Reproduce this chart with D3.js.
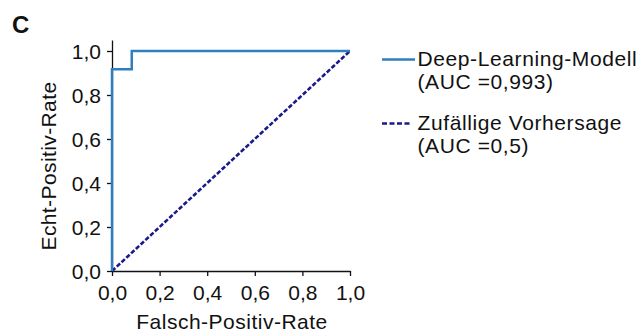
<!DOCTYPE html>
<html>
<head>
<meta charset="utf-8">
<script src="https://cdn.jsdelivr.net/npm/d3@7"></script>
<style>
  body { margin: 0; background: #fff; }
  svg { font-family: "Liberation Sans", Arial, Helvetica, sans-serif; }
</style>
</head>
<body>
<div id="chartContainer"></div>
<script>
// ROC curve of the model (step points)
var fpr = [0, 0, 0.083, 0.083, 1];
var tpr = [0, 0.917, 0.917, 1, 1];
// chance line
var randomFpr = [0, 1];
var randomTpr = [0, 1];

var xTicks = [0, 0.2, 0.4, 0.6, 0.8, 1.0];
var yTicks = [0, 0.2, 0.4, 0.6, 0.8, 1.0];

var legendNames = ["Deep-Learning-Modell", "Zufällige Vorhersage"];
var legendAuc = ["(AUC =0,993)", "(AUC =0,5)"];

function init() {
    var w = 639;
    var h = 333;
    var blue = "#2e7fbf";
    var navy = "#1a1a8c";

    var de = d3.formatLocale({decimal: ",", thousands: ".", grouping: [3], currency: ["", " €"]});
    var fmt = de.format(".1f");

    var svg = d3.select("#chartContainer")
        .append("svg")
        .attr("width", w)
        .attr("height", h);

    var x = d3.scaleLinear().domain([0, 1]).range([112, 350]);
    // axis line runs a bit above 1,0
    var y = d3.scaleLinear().domain([0, 1.05]).range([271, 40]);

    var xAxis = svg.append("g")
        .attr("transform", "translate(0,271)")
        .call(d3.axisBottom(x).tickValues(xTicks).tickFormat(fmt)
            .tickSize(5).tickSizeOuter(0).tickPadding(8));

    var yAxis = svg.append("g")
        .attr("transform", "translate(112,0)")
        .call(d3.axisLeft(y).tickValues(yTicks).tickFormat(fmt)
            .tickSize(5).tickSizeOuter(0).tickPadding(6));

    [xAxis, yAxis].forEach(function(g) {
        g.selectAll("path, line").attr("stroke", "#111").attr("stroke-width", 1.3);
        g.selectAll("text")
            .attr("font-size", 21)
            .attr("font-family", "'Liberation Sans', Arial, sans-serif")
            .attr("fill", "#111");
    });
    xAxis.selectAll("text").attr("dy", "0.76em");
    yAxis.selectAll("text").attr("dy", "0.36em");

    // axis titles
    svg.append("text")
        .attr("x", 232)
        .attr("y", 328.5)
        .attr("text-anchor", "middle")
        .attr("font-size", 21)
        .attr("letter-spacing", 0.5)
        .attr("fill", "#111")
        .text("Falsch-Positiv-Rate");

    svg.append("text")
        .attr("transform", "translate(55.5,166) rotate(-90)")
        .attr("text-anchor", "middle")
        .attr("font-size", 21)
        .attr("letter-spacing", 0.4)
        .attr("fill", "#111")
        .text("Echt-Positiv-Rate");

    // panel letter
    svg.append("text")
        .attr("x", 12)
        .attr("y", 33)
        .attr("font-size", 24)
        .attr("font-weight", "bold")
        .attr("fill", "#111")
        .text("C");

    var line = d3.line()
        .x(function(d) { return x(d[0]); })
        .y(function(d) { return y(d[1]); });

    svg.append("path")
        .datum(d3.zip(randomFpr, randomTpr))
        .attr("fill", "none")
        .attr("stroke", navy)
        .attr("stroke-width", 2.6)
        .attr("stroke-dasharray", "4.5,2")
        .attr("d", line);

    svg.append("path")
        .datum(d3.zip(fpr, tpr))
        .attr("fill", "none")
        .attr("stroke", blue)
        .attr("stroke-width", 2.5)
        .attr("d", line);

    // legend
    var legend = svg.selectAll("g.legend")
        .data(legendNames)
        .enter()
        .append("g")
        .attr("class", "legend")
        .attr("transform", function(d, i) { return "translate(382," + (59.5 + i * 64) + ")"; });

    legend.append("line")
        .attr("x1", 0)
        .attr("x2", function(d, i) { return i === 0 ? 33 : 30; })
        .attr("y1", 0)
        .attr("y2", 0)
        .attr("stroke", function(d, i) { return i === 0 ? blue : navy; })
        .attr("stroke-width", function(d, i) { return i === 0 ? 2.5 : 2.6; })
        .attr("stroke-dasharray", function(d, i) { return i === 0 ? null : "5,2.5"; });

    legend.append("text")
        .attr("x", 35.5)
        .attr("y", 6.8)
        .attr("font-size", 21)
        .attr("letter-spacing", 0.6)
        .attr("fill", "#111")
        .text(function(d) { return d; });

    legend.append("text")
        .attr("x", 35.5)
        .attr("y", 29.8)
        .attr("font-size", 21)
        .attr("letter-spacing", 0.6)
        .attr("fill", "#111")
        .text(function(d, i) { return legendAuc[i]; });
}

window.onload = init;
</script>
</body>
</html>
